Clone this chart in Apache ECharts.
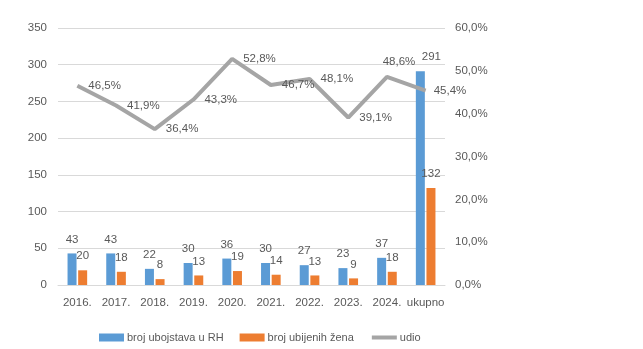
<!DOCTYPE html>
<html>
<head>
<meta charset="utf-8">
<script src="https://cdn.jsdelivr.net/npm/echarts@6/dist/echarts.min.js"></script>
<style>
  html, body { margin: 0; padding: 0; background: #fff; }
  #chart { width: 643px; height: 349px; }
</style>
</head>
<body>
<div id="chart"></div>
<script>
// Kategorije (godine) i vrijednosti serija
const categories = ['2016.', '2017.', '2018.', '2019.', '2020.', '2021.', '2022.', '2023.', '2024.', 'ukupno'];
const ubojstva = [43, 43, 22, 30, 36, 30, 27, 23, 37, 291];
const ubijeneZene = [20, 18, 8, 13, 19, 14, 13, 9, 18, 132];
const udio = [46.5, 41.9, 36.4, 43.3, 52.8, 46.7, 48.1, 39.1, 48.6, 45.4];

const seriesNames = ['broj ubojstava u RH', 'broj ubijenih žena', 'udio'];
const textColor = '#595959';
const fontFamily = 'Liberation Sans, Arial, sans-serif';
const fontSize = 11.5;

const pct = v => Number(v).toFixed(1).replace('.', ',') + '%';

const chart = echarts.init(document.getElementById('chart'), null, { renderer: 'canvas' });

const blueData = ubojstva.map((v, i) => {
  if (i === categories.length - 1) {
    return { value: v, label: { offset: [11, 0] } };
  }
  return v;
});

const lineData = udio.map((v, i) => {
  if (i === 8) {
    return { value: v, label: { position: 'top', offset: [12, 0], distance: 8 } };
  }
  if (i === categories.length - 1) {
    return { value: v, label: { distance: 7 } };
  }
  return v;
});

chart.setOption({
  animation: false,
  textStyle: { fontFamily: fontFamily },
  grid: { left: 58, right: 198, top: 28, bottom: 64 },
  legend: {
    data: [
      { name: seriesNames[0], icon: 'rect' },
      { name: seriesNames[1], icon: 'rect' },
      { name: seriesNames[2], itemStyle: { opacity: 0 }, lineStyle: { width: 4, color: '#A5A5A5' } }
    ],
    left: 99,
    top: 332,
    padding: 0,
    itemWidth: 25,
    itemHeight: 8,
    itemGap: 16,
    textStyle: { color: textColor, fontSize: 11, fontFamily: fontFamily, padding: [0, 0, 0, -2] }
  },
  xAxis: {
    type: 'category',
    data: categories,
    axisLine: { lineStyle: { color: '#D9D9D9', width: 1 } },
    axisTick: { show: false },
    axisLabel: { color: textColor, fontSize: fontSize, margin: 12, interval: 0, fontFamily: fontFamily }
  },
  yAxis: [
    {
      type: 'value',
      min: 0,
      max: 350,
      interval: 50,
      axisLine: { show: false },
      axisTick: { show: false },
      splitLine: { lineStyle: { color: '#D9D9D9', width: 1 } },
      axisLabel: { color: textColor, fontSize: fontSize, margin: 11, fontFamily: fontFamily }
    },
    {
      type: 'value',
      min: 0,
      max: 60,
      interval: 10,
      axisLine: { show: false },
      axisTick: { show: false },
      splitLine: { show: false },
      axisLabel: { color: textColor, fontSize: fontSize, margin: 10, fontFamily: fontFamily, formatter: pct }
    }
  ],
  series: [
    {
      name: seriesNames[0],
      type: 'bar',
      data: blueData,
      barWidth: 9,
      barGap: '18%',
      itemStyle: { color: '#5B9BD5' },
      label: { show: true, position: 'top', distance: 8, color: textColor, fontSize: fontSize, fontFamily: fontFamily }
    },
    {
      name: seriesNames[1],
      type: 'bar',
      data: ubijeneZene,
      barWidth: 9,
      barGap: '18%',
      itemStyle: { color: '#ED7D31' },
      label: { show: true, position: 'top', distance: 8, color: textColor, fontSize: fontSize, fontFamily: fontFamily }
    },
    {
      name: seriesNames[2],
      type: 'line',
      yAxisIndex: 1,
      data: lineData,
      symbol: 'circle',
      symbolSize: 2,
      showSymbol: true,
      lineStyle: { color: '#A5A5A5', width: 4 },
      itemStyle: { color: 'rgba(165,165,165,0)', borderWidth: 0 },
      label: { show: true, position: 'right', distance: 10, color: textColor, fontSize: fontSize, fontFamily: fontFamily, formatter: p => pct(p.value) }
    }
  ]
});
</script>
</body>
</html>
